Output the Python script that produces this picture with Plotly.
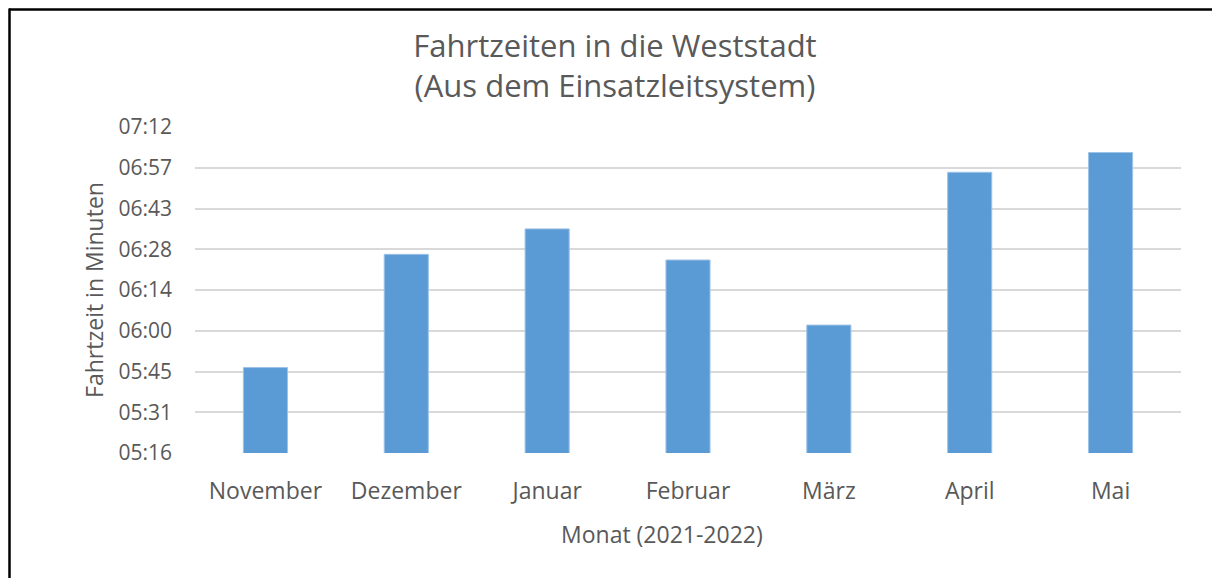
import plotly.graph_objects as go

months = ["November", "Dezember", "Januar", "Februar", "März", "April", "Mai"]
times = ["05:47", "06:27", "06:36", "06:25", "06:02", "06:56", "07:03"]  # mm:ss
tick_labels = ["05:16", "05:31", "05:45", "06:00", "06:14", "06:28", "06:43", "06:57", "07:12"]

def to_sec(s):
    m, sec = s.split(":")
    return int(m) * 60 + int(sec)

values = [to_sec(t) for t in times]
y_min = 316.8
y_step = 14.4
tick_vals = [y_min + i * y_step for i in range(len(tick_labels))]

OFF = 8  # page body margin
W, H = 1220 - OFF, 578 - OFF
# target plot area in screenshot coords
PX0, PX1, PY0, PY1 = 195, 1181, 127, 453
L = PX0 - OFF
T = PY0 - OFF
R = W - (PX1 - OFF)
B = H - (PY1 - OFF)
FONT = "Open Sans"
GREY = "#595959"

fig = go.Figure(go.Bar(
    x=months, y=values, width=0.313,
    marker=dict(color="#5B9BD5", line=dict(color="#9DC3E6", width=1)),
    hovertemplate="%{x}: %{customdata}<extra></extra>", customdata=times,
))

pw = W - L - R
ph = H - T - B
def px(x):
    return (x - OFF - L) / pw
def py(y):
    return 1 - (y - OFF - T) / ph

fig.update_layout(
    width=W, height=H,
    margin=dict(l=L, r=R, t=T, b=B),
    paper_bgcolor="white", plot_bgcolor="white",
    title=dict(text="Fahrtzeiten in die Weststadt<br>(Aus dem Einsatzleitsystem)",
               x=px(615), xref="paper", xanchor="center", y=1 - (57 - OFF) / H, yanchor="middle",
               font=dict(family=FONT, size=31, color=GREY)),
    font=dict(family=FONT, color=GREY),
    showlegend=False,
    shapes=[
        dict(type="line", xref="paper", yref="paper", x0=px(9), x1=px(1230), y0=py(9.5), y1=py(9.5),
             line=dict(color="black", width=2.5)),
        dict(type="line", xref="paper", yref="paper", x0=px(9.5), x1=px(9.5), y0=py(8.5), y1=py(590),
             line=dict(color="black", width=2.5)),
    ],
    annotations=[
        dict(text="Monat (2021-2022)", xref="paper", yref="paper", x=px(662), y=py(534),
             xanchor="center", yanchor="middle", showarrow=False,
             font=dict(family=FONT, size=23, color=GREY)),
    ],
)
fig.update_xaxes(
    showgrid=False, showline=False, ticks="",
    tickfont=dict(family=FONT, size=23, color=GREY), ticklabelstandoff=22,
)
fig.update_yaxes(
    range=[y_min, y_min + y_step * 8], tickvals=tick_vals, ticktext=tick_labels,
    showgrid=True, gridcolor="#D9D9D9", gridwidth=1.5, zeroline=False, showline=False,
    tickfont=dict(family=FONT, size=21, color=GREY), ticks="", ticklabelstandoff=22,
    title=dict(text="Fahrtzeit in Minuten", font=dict(family=FONT, size=23, color=GREY), standoff=8),
)
fig.write_html("out.html")
